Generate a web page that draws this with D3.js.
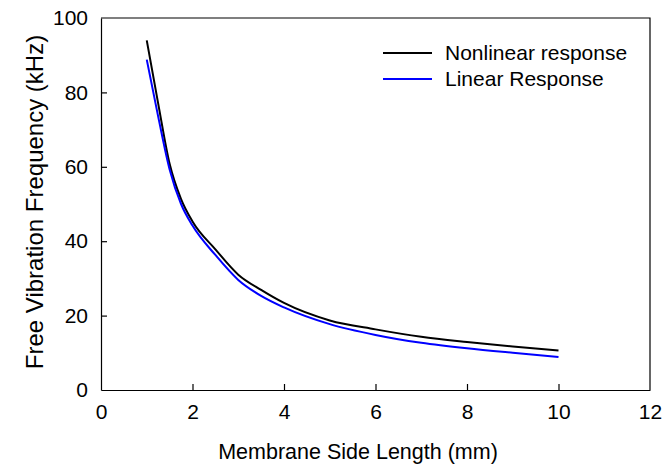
<!DOCTYPE html>
<html>
<head>
<meta charset="utf-8">
<script src="https://cdn.jsdelivr.net/npm/d3@7"></script>
<style>
html,body{margin:0;padding:0;background:#fff;}
svg{display:block;}
text{font-family:Arial,"Liberation Sans",Helvetica,sans-serif;fill:#000;}
</style>
</head>
<body>
<svg id="chart" width="665" height="465"></svg>
<script>
// Data
const sideLength = [1, 1.25, 1.5, 1.75, 2, 2.5, 3, 3.5, 4, 5, 6, 7, 8, 9, 10];
const nonlinearResponse = [94.0, 77.0, 60.8, 51.3, 45.3, 37.8, 31.0, 26.9, 23.4, 18.7, 16.3, 14.3, 12.9, 11.7, 10.6];
const linearResponse = [88.8, 73.5, 59.3, 50.0, 44.2, 36.3, 29.6, 25.3, 22.2, 17.7, 14.8, 12.7, 11.2, 10.0, 8.9];
const seriesNames = ["Nonlinear response", "Linear Response"];
const seriesColors = ["#000000", "#0000ff"];
const xTicks = [0, 2, 4, 6, 8, 10, 12];
const yTicks = [0, 20, 40, 60, 80, 100];

const svg = d3.select("#chart");
const margin = {left: 101, right: 15, top: 18, bottom: 75};
const W = 665, H = 465;
const x = d3.scaleLinear().domain([0, 12]).range([margin.left, W - margin.right]);
const y = d3.scaleLinear().domain([0, 100]).range([H - margin.bottom, margin.top]);

// frame (top & right)
svg.append("path")
  .attr("d", `M${x(0)},${y(100)}H${x(12)}V${y(0)}`)
  .attr("fill", "none").attr("stroke", "#000").attr("stroke-width", 1.2);

const xAxis = svg.append("g")
  .attr("transform", `translate(0,${y(0)})`)
  .call(d3.axisBottom(x).tickValues(xTicks).tickSizeInner(-6).tickSizeOuter(0).tickPadding(14).tickFormat(d3.format("d")));
const yAxis = svg.append("g")
  .attr("transform", `translate(${x(0)},0)`)
  .call(d3.axisLeft(y).tickValues(yTicks).tickSizeInner(-6).tickSizeOuter(0).tickPadding(13).tickFormat(d3.format("d")));

[xAxis, yAxis].forEach(g => {
  g.select(".domain").attr("stroke", "#000").attr("stroke-width", 1.2);
  g.selectAll(".tick line").attr("stroke", "#000").attr("stroke-width", 1.2);
  g.selectAll(".tick text").attr("font-size", "21px").attr("font-family", "Arial, 'Liberation Sans', sans-serif").attr("fill", "#000");
});
// hide ticks lying on the frame
xAxis.selectAll(".tick").filter(d => d === 0 || d === 12).select("line").remove();
yAxis.selectAll(".tick").filter(d => d === 0 || d === 100).select("line").remove();

// lines
const series = [nonlinearResponse, linearResponse];
const line = d3.line().x((d, i) => x(sideLength[i])).y(d => y(d)).curve(d3.curveMonotoneX);
series.forEach((vals, k) => {
  svg.append("path")
    .datum(vals)
    .attr("d", line)
    .attr("fill", "none")
    .attr("stroke", seriesColors[k])
    .attr("stroke-width", 2)
    .attr("stroke-linejoin", "round");
});

// legend
const legY = [53, 79];
seriesNames.forEach((name, k) => {
  svg.append("line")
    .attr("x1", 383).attr("x2", 432)
    .attr("y1", legY[k]).attr("y2", legY[k])
    .attr("stroke", seriesColors[k]).attr("stroke-width", 2);
  svg.append("text")
    .attr("x", 445).attr("y", legY[k])
    .attr("dy", "0.35em")
    .attr("font-size", "21px")
    .text(name);
});

// axis titles
svg.append("text")
  .attr("x", 358).attr("y", 459)
  .attr("text-anchor", "middle")
  .attr("font-size", "21.5px")
  .text("Membrane Side Length (mm)");
svg.append("text")
  .attr("transform", `translate(43,202) rotate(-90)`)
  .attr("text-anchor", "middle")
  .attr("font-size", "24px")
  .text("Free Vibration Frequency (kHz)");
</script>
</body>
</html>
